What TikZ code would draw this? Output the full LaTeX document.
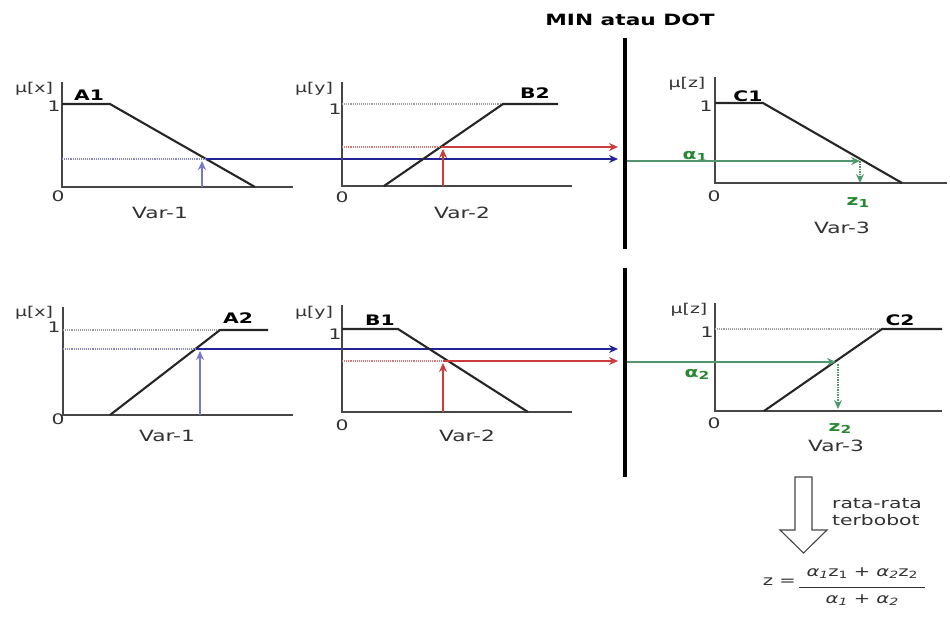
\documentclass[tikz,border=0pt]{standalone}
\usepackage{fontspec}
\setmainfont{DejaVu Sans}[FakeStretch=1.4]
\usetikzlibrary{arrows.meta}
\definecolor{axisgray}{RGB}{70,70,70}
\definecolor{navyline}{RGB}{35,35,150}
\definecolor{lightnavy}{RGB}{120,120,200}
\definecolor{redline}{RGB}{205,60,60}
\definecolor{greenline}{RGB}{80,150,110}
\definecolor{greentext}{RGB}{40,135,50}
\definecolor{txtgray}{RGB}{50,50,50}
\begin{document}
\begin{tikzpicture}[x=1pt,y=-1pt,
  axis/.style={draw=axisgray,line width=1.9pt},
  mf/.style={draw=black!85,line width=2.1pt},
  guide/.style={draw=gray!75,densely dotted,line width=1.1pt},
  tip/.style={-{Stealth[length=9pt,width=8pt]}},
  bluehl/.style={draw=navyline,line width=1.7pt,tip},
  blueup/.style={draw=lightnavy,line width=2.1pt,tip},
  bluedot/.style={draw=navyline!55,densely dotted,line width=1.1pt},
  redhl/.style={draw=redline,line width=1.7pt,tip},
  redup/.style={draw=redline,line width=2.1pt,tip},
  reddot/.style={draw=redline!70,densely dotted,line width=1.1pt},
  greenhl/.style={draw=greenline,line width=1.5pt,tip},
  greendown/.style={draw=greenline,densely dotted,line width=1.5pt,tip},
  divider/.style={draw=black,line width=4.5pt},
  mu/.style={text=txtgray,font=\fontsize{13.5}{13.5}\selectfont,inner sep=0pt},
  tick/.style={text=txtgray,font=\fontsize{14.5}{14.5}\selectfont,inner sep=0pt},
  setname/.style={text=black,font=\fontsize{14.5}{14.5}\selectfont\bfseries,inner sep=0pt},
  varname/.style={text=txtgray,font=\fontsize{15.5}{15.5}\selectfont,inner sep=0pt},
  greenlbl/.style={text=greentext,font=\fontsize{14.5}{14.5}\selectfont\bfseries,inner sep=0pt},
  note/.style={text=txtgray,font=\fontsize{14.5}{17}\selectfont,inner sep=0pt,align=left},
  eqtext/.style={text=txtgray,font=\fontsize{14}{14}\selectfont,inner sep=0pt}
]
\useasboundingbox (0,0) rectangle (950,616);

% heading and the two dividers
\node[font=\fontsize{15.5}{15.5}\selectfont\bfseries,inner sep=0pt] (title) at (630,20) {MIN atau DOT};
\coordinate (dTopA) at (625,38);
\coordinate (dTopB) at (625,249);
\coordinate (dBotA) at (625,268);
\coordinate (dBotB) at (625,477);
\draw[divider] (dTopA) -- (dTopB);
\draw[divider] (dBotA) -- (dBotB);

% ---------- rule 1 : A1 ----------
\draw[axis] (62,82) -- (62,187) -- (293,187);
\draw[mf] (62,104) -- (110,104) -- (255,187);
\node[mu] (mux1) at (34,89) {µ[x]};
\node[setname] (A1) at (89,95) {A1};
\node[tick] (one1) at (54,106) {1};
\node[tick] (zero1) at (58,196) {0};
\node[varname] (var1a) at (160,213) {Var-1};
\coordinate (a1base) at (202,187);
\coordinate (a1hit) at (202,161);
\coordinate (a1cut) at (206,159);
\coordinate (a1end) at (618,159);
\draw[bluedot] (62,159) -- (a1cut);
\draw[blueup] (a1base) -- (a1hit);
\draw[bluehl] (a1cut) -- (a1end);

% ---------- rule 1 : B2 ----------
\draw[axis] (342,82) -- (342,186) -- (572,186);
\draw[guide] (342,104) -- (503,104);
\draw[mf] (384,186) -- (503,104) -- (558,104);
\node[mu] (muy1) at (314,89) {µ[y]};
\node[setname] (B2) at (535,93) {B2};
\node[tick] (one2) at (335,109) {1};
\node[tick] (zero2) at (342,197) {0};
\node[varname] (var2a) at (462,213) {Var-2};
\coordinate (b2base) at (443,186);
\coordinate (b2hit) at (443,149);
\coordinate (b2cut) at (441,147);
\coordinate (b2end) at (618,147);
\draw[reddot] (342,147) -- (b2cut);
\draw[redup] (b2base) -- (b2hit);
\draw[redhl] (b2cut) -- (b2end);

% ---------- rule 1 : C1 ----------
\draw[axis] (715,77) -- (715,183) -- (947,183);
\draw[mf] (715,103) -- (763,103) -- (902,183);
\node[mu] (muz1) at (687,84) {µ[z]};
\node[setname] (C1) at (748,96) {C1};
\node[tick] (one3) at (706,106) {1};
\node[tick] (zero3) at (714,196) {0};
\node[greenlbl] (alpha1) at (695,156) {α\raisebox{-2pt}{\fontsize{11}{11}\selectfont 1}};
\node[greenlbl] (z1) at (858,203) {z\raisebox{-2pt}{\fontsize{11}{11}\selectfont 1}};
\node[varname] (var3a) at (842,228) {Var-3};
\coordinate (c1start) at (627,161);
\coordinate (c1hit) at (860,161);
\coordinate (c1foot) at (860,183);
\draw[greenhl] (c1start) -- (c1hit);
\draw[greendown] (c1hit) -- (c1foot);

% ---------- rule 2 : A2 ----------
\draw[axis] (63,307) -- (63,415) -- (293,415);
\draw[guide] (63,330) -- (220,330);
\draw[mf] (110,415) -- (220,330) -- (268,330);
\node[mu] (mux2) at (34,313) {µ[x]};
\node[setname] (A2) at (238,318) {A2};
\node[tick] (one4) at (54,327) {1};
\node[tick] (zero4) at (58,419) {0};
\node[varname] (var1b) at (167,436) {Var-1};
\coordinate (a2base) at (200,415);
\coordinate (a2hit) at (200,351);
\coordinate (a2cut) at (196,349);
\coordinate (a2end) at (618,349);
\draw[bluedot] (63,349) -- (a2cut);
\draw[blueup] (a2base) -- (a2hit);
\draw[bluehl] (a2cut) -- (a2end);

% ---------- rule 2 : B1 ----------
\draw[axis] (342,305) -- (342,412) -- (572,412);
\draw[mf] (342,329) -- (398,329) -- (528,412);
\node[mu] (muy2) at (314,313) {µ[y]};
\node[setname] (B1) at (380,320) {B1};
\node[tick] (one5) at (335,334) {1};
\node[tick] (zero5) at (342,425) {0};
\node[varname] (var2b) at (467,436) {Var-2};
\coordinate (b1base) at (443,412);
\coordinate (b1hit) at (443,363);
\coordinate (b1cut) at (443,361);
\coordinate (b1end) at (618,361);
\draw[reddot] (342,361) -- (b1cut);
\draw[redup] (b1base) -- (b1hit);
\draw[redhl] (b1cut) -- (b1end);

% ---------- rule 2 : C2 ----------
\draw[axis] (715,303) -- (715,411) -- (942,411);
\draw[guide] (715,329) -- (882,329);
\draw[mf] (764,411) -- (882,329) -- (942,329);
\node[mu] (muz2) at (689,310) {µ[z]};
\node[setname] (C2) at (900,320) {C2};
\node[tick] (one6) at (707,332) {1};
\node[tick] (zero6) at (714,423) {0};
\node[greenlbl] (alpha2) at (697,374) {α\raisebox{-2pt}{\fontsize{11}{11}\selectfont 2}};
\node[greenlbl] (z2) at (840,429) {z\raisebox{-2pt}{\fontsize{11}{11}\selectfont 2}};
\node[varname] (var3b) at (836,446) {Var-3};
\coordinate (c2start) at (627,362);
\coordinate (c2hit) at (836,362);
\coordinate (c2top) at (838,364);
\coordinate (c2foot) at (838,409);
\draw[greenhl] (c2start) -- (c2hit);
\draw[greendown] (c2top) -- (c2foot);

% ---------- weighted average ----------
\draw[line width=1.1pt,draw=gray!55!black,fill=white]
  (795,477) -- (812,477) -- (812,530) -- (827,530) -- (803.5,553)
  -- (780,530) -- (795,530) -- cycle;
\node[note,anchor=west] (avg) at (832,512) {rata-rata\\terbobot};
\node[eqtext,anchor=east] (zeq) at (796,582) {z =};
\node[eqtext] (num) at (862,573)
  {\itshape α\raisebox{-2pt}{\fontsize{10}{10}\selectfont 1}\upshape z\raisebox{-2pt}{\fontsize{10}{10}\selectfont 1}
   + \itshape α\raisebox{-2pt}{\fontsize{10}{10}\selectfont 2}\upshape z\raisebox{-2pt}{\fontsize{10}{10}\selectfont 2}};
\node[eqtext] (den) at (862,600)
  {\itshape α\raisebox{-2pt}{\fontsize{10}{10}\selectfont 1}\upshape{} + \itshape α\raisebox{-2pt}{\fontsize{10}{10}\selectfont 2}};
\coordinate (barL) at (799,587);
\coordinate (barR) at (925,587);
\draw[draw=txtgray,line width=0.9pt] (barL) -- (barR);
\end{tikzpicture}
\end{document}
